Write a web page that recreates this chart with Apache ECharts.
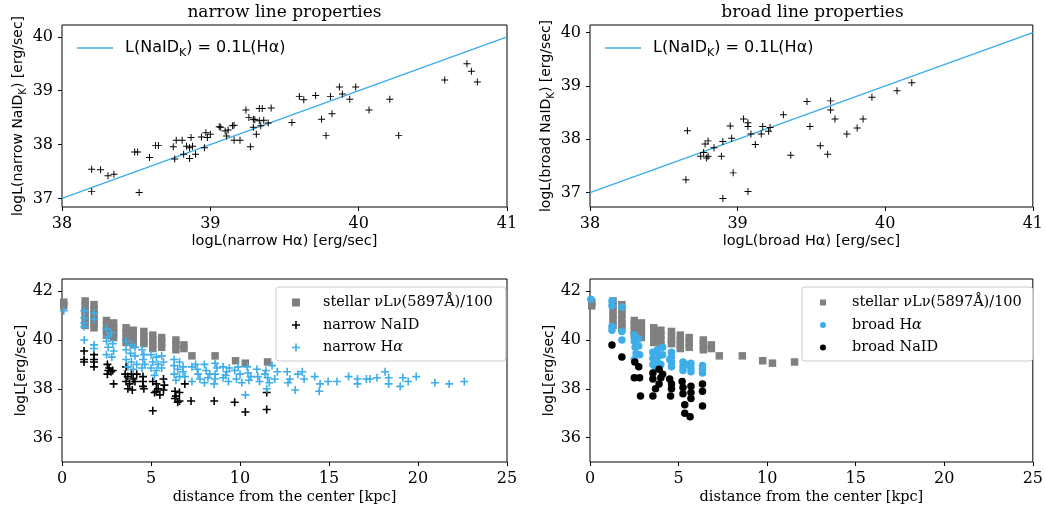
<!DOCTYPE html>
<html>
<head>
<meta charset="utf-8">
<script src="https://cdn.jsdelivr.net/npm/echarts@6/dist/echarts.min.js"></script>
<style>
  html, body { margin: 0; padding: 0; background: #fff; }
  #chart { width: 1046px; height: 510px; }
</style>
</head>
<body>
<div id="chart"></div>
<script>
// ---- line-luminosity pairs [log L(Halpha), log L(NaID_K)] ----
const narrowLum = [
  [38.20,37.54],[38.26,37.53],[38.20,37.13],[38.31,37.42],[38.35,37.45],
  [38.49,37.86],[38.51,37.86],[38.52,37.11],[38.59,37.76],[38.63,37.98],
  [38.65,37.98],[38.75,37.96],[38.76,37.73],[38.77,38.08],[38.81,38.08],
  [38.82,37.82],[38.84,37.97],[38.86,37.74],[38.87,38.13],[38.86,37.94],
  [38.88,37.97],[38.90,37.82],[38.94,38.14],[38.96,37.94],[38.97,38.22],
  [38.98,38.13],[39.00,38.19],[39.06,38.33],[39.07,38.32],[39.10,38.25],
  [39.11,38.16],[39.12,38.27],[39.15,38.35],[39.16,38.36],[39.16,38.08],
  [39.20,38.08],[39.24,38.64],[39.26,38.50],[39.27,37.96],[39.29,38.47],
  [39.29,38.32],[39.30,38.46],[39.31,38.19],[39.33,38.67],[39.33,38.44],
  [39.34,38.35],[39.35,38.67],[39.36,38.45],[39.39,38.40],[39.41,38.68],
  [39.55,38.41],[39.60,38.89],[39.63,38.83],[39.71,38.91],[39.75,38.47],
  [39.78,38.17],[39.81,38.89],[39.82,38.57],[39.87,39.07],[39.89,38.94],
  [39.94,38.84],[39.98,39.07],[40.07,38.64],[40.21,38.84],[40.27,38.17],
  [40.58,39.20],[40.73,39.50],[40.76,39.36],[40.80,39.16]
];
const broadLum = [
  [38.66,38.16],[38.65,37.24],[38.75,37.68],[38.77,37.75],[38.78,37.91],
  [38.80,37.97],[38.79,37.65],[38.80,37.68],[38.84,37.84],[38.89,37.68],
  [38.90,37.96],[38.90,36.89],[38.95,38.25],[38.96,38.02],[38.97,37.37],
  [39.04,38.38],[39.07,38.31],[39.07,38.24],[39.09,38.10],[39.07,37.02],
  [39.12,37.90],[39.16,38.10],[39.17,38.24],[39.21,38.15],[39.22,38.22],
  [39.31,38.46],[39.36,37.70],[39.47,38.71],[39.49,38.24],[39.56,37.88],
  [39.61,37.72],[39.63,38.72],[39.63,38.55],[39.66,38.38],[39.74,38.10],
  [39.81,38.21],[39.85,38.38],[39.91,38.79],[40.08,38.91],[40.18,39.06]
];
// reference relation L(NaID_K) = 0.1 L(Halpha)
const refLogHa = [38, 41];
const refLogNaD = [37, 40];

// ---- radial profiles [distance kpc, log L] ----
const stellarProfile = [
  [0.1,41.55],[0.1,41.4],
  [1.3,41.6],[1.3,41.4],[1.3,41.2],[1.3,41.0],[1.3,40.8],[1.3,40.6],
  [1.8,41.45],[1.8,41.25],[1.8,41.05],[1.8,40.85],[1.8,40.65],[1.8,40.5],
  [2.5,40.8],[2.5,40.6],[2.5,40.4],[2.5,40.2],
  [2.9,40.7],[2.9,40.5],[2.9,40.3],[2.9,40.1],
  [3.6,40.5],[3.6,40.3],[3.6,40.1],[3.6,39.9],
  [4.0,40.4],[4.0,40.2],[4.0,40.0],[4.0,39.8],
  [4.6,40.35],[4.6,40.15],[4.6,39.95],[4.6,39.85],
  [5.1,40.2],[5.1,40.0],[5.1,39.8],[5.1,39.65],
  [5.6,40.1],[5.6,39.9],[5.6,39.7],
  [6.4,40.0],[6.4,39.8],[6.4,39.6],
  [6.85,39.8],[6.85,39.65],
  [7.3,39.35],[8.6,39.35],[9.75,39.15],[10.3,39.05],[11.55,39.1]
];
const narrowNaDProfile = [
  [1.24,39.55],[1.24,39.2],[1.24,39.1],
  [1.8,39.4],[1.8,39.2],[1.8,39.1],[1.8,38.9],
  [2.55,39.0],[2.65,38.85],[2.75,38.7],[2.55,38.6],[2.85,38.75],[2.9,38.2],[2.6,38.75],
  [3.6,38.9],[3.55,38.6],[3.7,38.5],[3.9,38.6],[4.0,38.4],[3.6,38.3],[3.8,38.2],
  [4.1,38.3],[3.7,38.0],[3.95,37.95],[4.2,38.6],
  [4.55,38.5],[4.55,38.3],[4.55,38.1],[4.6,38.0],
  [5.1,38.3],[5.3,38.2],[5.4,38.0],[5.2,37.85],[5.5,37.75],[5.1,37.1],[5.3,37.9],
  [5.7,38.4],[5.75,38.15],[5.7,37.95],
  [6.35,37.9],[6.4,37.7],[6.5,37.45],[6.35,37.6],
  [6.6,37.85],[6.6,37.5],[6.9,38.2],[7.25,37.5],[8.55,37.5],[9.7,37.45],
  [10.3,37.05],[11.5,37.85],[11.5,37.15]
];
const narrowHaProfile = [
  [0.1,41.2],
  [1.25,41.2],[1.25,40.9],[1.25,40.7],[1.25,40.55],[1.25,40.0],
  [1.8,41.1],[1.8,40.85],[1.8,39.8],[1.8,39.65],
  [2.5,40.45],[2.75,40.3],[2.6,40.15],[2.5,39.95],[2.85,39.85],[2.6,39.7],[2.9,39.55],[2.5,39.4],[2.8,39.3],
  [3.6,39.95],[3.9,39.8],[4.1,39.7],[3.6,39.6],[3.85,39.45],[4.1,39.35],[3.6,39.2],[3.9,39.1],[4.2,39.0],[3.7,38.9],[4.0,38.8],
  [4.5,39.6],[4.6,39.4],[4.55,39.2],[4.65,39.0],[4.5,38.85],
  [5.0,39.4],[5.3,39.3],[5.6,39.35],[5.1,39.1],[5.4,39.0],[5.7,39.1],[5.0,38.85],[5.3,38.75],[5.6,38.85],[5.2,38.55],
  [6.3,39.2],[6.6,39.1],[6.3,38.95],[6.5,38.8],[6.8,38.9],[6.3,38.6],[6.6,38.5],[6.4,38.35],
  [6.8,38.7],[6.9,38.5],[7.3,38.9],[7.6,38.8],[7.65,38.6],[7.3,38.3],[7.75,38.4],[7.5,39.0],
  [8.0,39.0],[8.1,38.75],[8.2,38.45],[8.0,38.25],[8.3,38.6],
  [8.6,39.05],[8.6,38.6],[8.55,38.2],[8.7,38.85],[8.6,38.4],
  [9.05,38.9],[9.25,38.7],[9.05,38.45],[9.35,38.3],[9.2,38.55],[9.4,38.85],
  [9.7,38.75],[10.0,38.6],[9.8,38.4],[10.1,38.25],[9.9,38.9],
  [10.4,38.9],[10.45,38.65],[10.5,38.35],[10.3,37.75],[10.6,38.5],
  [10.95,38.8],[11.0,38.5],[11.1,38.3],
  [11.45,38.75],[11.8,38.95],[11.55,38.45],[11.65,38.25],[11.5,38.0],[11.4,38.6],
  [12.1,38.7],[11.95,38.4],
  [12.65,38.7],[12.8,38.4],[12.7,38.25],[13.1,37.95],[13.25,38.6],[13.5,38.7],[13.6,38.4],
  [14.2,38.5],[14.5,38.2],[14.45,37.9],[14.95,38.3],[15.45,38.3],[16.1,38.5],
  [16.6,38.4],[16.6,38.2],[17.1,38.4],[17.3,38.4],[17.7,38.45],[18.15,38.7],
  [18.35,38.45],[18.35,38.2],[19.0,38.1],[19.15,38.45],[19.45,38.3],[19.9,38.5],
  [20.95,38.25],[21.75,38.2],[22.6,38.3]
];
const broadHaProfile = [
  [0.05,41.67],
  [1.24,41.6],[1.24,41.4],[1.24,40.55],[1.24,40.4],
  [1.8,41.35],[1.8,40.35],[1.8,40.0],
  [2.5,40.2],[2.5,39.95],[2.75,40.05],[2.55,39.7],[2.75,39.75],[2.8,39.4],[2.6,39.45],[2.5,39.2],
  [3.55,39.5],[3.55,39.25],[3.55,39.0],[3.8,39.6],[3.9,39.35],[4.1,39.7],[4.1,39.4],[3.8,39.1],[3.7,38.85],[4.0,39.0],
  [4.6,39.5],[4.6,39.3],[4.6,39.1],[4.6,38.9],[4.5,39.2],
  [5.25,39.1],[5.25,38.9],[5.25,38.75],[5.7,39.05],[5.7,38.85],[5.7,38.7],[5.5,39.0],
  [6.35,38.95],[6.35,38.8],[6.35,38.65]
];
const broadNaDProfile = [
  [1.24,39.8],[1.8,39.3],
  [2.53,39.1],[2.75,38.9],[2.5,38.45],[2.8,38.45],[2.85,37.7],
  [3.55,38.65],[3.9,38.8],[4.1,38.6],[3.55,38.4],[3.9,38.2],[3.7,38.0],[3.55,37.7],[4.0,38.45],
  [4.5,38.4],[4.6,38.2],[4.55,37.7],[4.6,38.0],
  [5.2,38.3],[5.25,38.05],[5.25,37.8],[5.35,37.35],[5.35,37.0],[5.7,38.1],[5.7,37.85],[5.7,37.6],[5.65,36.85],
  [6.35,38.2],[6.35,37.9],[6.35,37.3]
];

// ---- tick values ----
const lumTicksY = [37, 38, 39, 40];
const profileTicksY = [36, 38, 40, 42];

// ---- styling ----
const BLUE = '#3daeea';
const GRAY = '#808080';
const SERIF = 'DejaVu Serif';
const SANS = 'DejaVu Sans';
const PLUS_THIN = 'path://M4.3,0H5.7V4.3H10V5.7H5.7V10H4.3V5.7H0V4.3H4.3Z';
const PLUS_BOLD = 'path://M4,0H6V4H10V6H6V10H4V6H0V4H4Z';

const grids = [
  { left: 62, top: 25, width: 445, height: 182 },
  { left: 590, top: 25, width: 445, height: 182 },
  { left: 62, top: 279, width: 445, height: 183 },
  { left: 590, top: 279, width: 445, height: 183 }
].map(g => Object.assign(g, { show: true, borderColor: '#000', borderWidth: 1, backgroundColor: 'transparent' }));

const subRich = {
  m: { fontFamily: SANS, fontSize: 14, lineHeight: 20, color: '#000' },
  s: { fontFamily: SANS, fontSize: 10, lineHeight: 20, verticalAlign: 'bottom', color: '#000' }
};

const tickLabel = { color: '#000', fontFamily: SERIF, fontSize: 16, margin: 9 };

function baseAxis(extra) {
  return Object.assign({
    axisLine: { show: false },
    axisTick: { show: true, inside: false, length: 4, lineStyle: { color: '#000', width: 1 } },
    splitLine: { show: false },
    nameLocation: 'middle'
  }, extra);
}

function lumXAxis(gridIndex, label) {
  return baseAxis({
    type: 'value', gridIndex, min: 38, max: 41, interval: 1,
    name: label, nameGap: 27,
    nameTextStyle: { fontFamily: SANS, fontSize: 14.5, color: '#000' },
    axisLabel: Object.assign({ showMinLabel: true, showMaxLabel: true }, tickLabel)
  });
}
function lumYAxis(gridIndex, kind, min, max) {
  const ax = baseAxis({
    type: 'value', gridIndex, min, max,
    name: '{m|logL(' + kind + ' NaID}{s|K}{m|) [erg/sec]}', nameGap: 34,
    nameTextStyle: { rich: subRich },
    axisLabel: Object.assign({ customValues: lumTicksY }, tickLabel)
  });
  ax.axisTick.customValues = lumTicksY;
  return ax;
}
function distXAxis(gridIndex) {
  return baseAxis({
    type: 'value', gridIndex, min: 0, max: 25, interval: 5,
    name: 'distance from the center [kpc]', nameGap: 28,
    nameTextStyle: { fontFamily: SERIF, fontSize: 14.5, color: '#000' },
    axisLabel: Object.assign({ showMinLabel: true, showMaxLabel: true }, tickLabel)
  });
}
function profYAxis(gridIndex) {
  const ax = baseAxis({
    type: 'value', gridIndex, min: 35, max: 42.5,
    name: 'logL[erg/sec]', nameGap: 34,
    nameTextStyle: { fontFamily: SANS, fontSize: 14, color: '#000' },
    axisLabel: Object.assign({ customValues: profileTicksY }, tickLabel)
  });
  ax.axisTick.customValues = profileTicksY;
  return ax;
}

const relationName = 'L(NaID_K) = 0.1L(Hα)';
const relationLine = refLogHa.map((x, i) => [x, refLogNaD[i]]);

function relationSeries(idx) {
  return {
    name: relationName, type: 'line', xAxisIndex: idx, yAxisIndex: idx,
    data: relationLine, symbol: 'none', silent: true,
    lineStyle: { color: BLUE, width: 1.5 }, itemStyle: { color: BLUE }, z: 2
  };
}
function markSeries(idx, name, data, color, shape, size) {
  return {
    name, type: 'scatter', xAxisIndex: idx, yAxisIndex: idx, data,
    symbol: shape, symbolSize: size, itemStyle: { color, opacity: 1 }, z: 3, silent: true
  };
}

const stellarName = 'stellar νLν(5897Å)/100';

const relationLegend = (left) => ({
  data: [{ name: relationName, icon: 'rect' }], left, top: 40, orient: 'vertical', padding: 0,
  itemWidth: 36, itemHeight: 1.6, selectedMode: false,
  itemStyle: { color: BLUE },
  formatter: () => '{m|L(NaID}{s|K}{m|) = 0.1L(Hα)}',
  textStyle: {
    padding: [0, 0, 0, 7],
    rich: {
      m: { fontFamily: SANS, fontSize: 16, lineHeight: 22, color: '#000' },
      s: { fontFamily: SANS, fontSize: 11, lineHeight: 22, verticalAlign: 'bottom', color: '#000' }
    }
  }
});

function profileLegend(names, left, pad, iconSize, textPad) {
  return {
    data: names, left, top: 287, orient: 'vertical', selectedMode: false,
    padding: pad, itemGap: 7.5, itemWidth: iconSize, itemHeight: iconSize,
    borderColor: '#cccccc', borderWidth: 1, borderRadius: 3, backgroundColor: '#fff',
    formatter: (n) => n.replace('Hα', 'H{i|α}'),
    textStyle: {
      fontFamily: SERIF, fontSize: 14.5, color: '#000', padding: [0, 0, 0, textPad],
      rich: { i: { fontFamily: SERIF, fontSize: 14.5, fontStyle: 'italic', color: '#000' } }
    }
  };
}

const option = {
  animation: false,
  backgroundColor: '#fff',
  title: [
    { text: 'narrow line properties', left: 284.5, top: 4, textAlign: 'center', padding: 0,
      textStyle: { fontFamily: SERIF, fontSize: 17, fontWeight: 'normal', color: '#000' } },
    { text: 'broad line properties', left: 812.5, top: 4, textAlign: 'center', padding: 0,
      textStyle: { fontFamily: SERIF, fontSize: 17, fontWeight: 'normal', color: '#000' } }
  ],
  grid: grids,
  xAxis: [
    lumXAxis(0, 'logL(narrow Hα) [erg/sec]'),
    lumXAxis(1, 'logL(broad Hα) [erg/sec]'),
    distXAxis(2),
    distXAxis(3)
  ],
  yAxis: [
    lumYAxis(0, 'narrow', 36.84, 40.22),
    lumYAxis(1, 'broad', 36.73, 40.143),
    profYAxis(2),
    profYAxis(3)
  ],
  legend: [
    relationLegend(77),
    relationLegend(605),
    profileLegend([stellarName, 'narrow NaID', 'narrow Hα'], 276, [8, 13, 6, 16], 8, 18),
    profileLegend([stellarName, 'broad Hα', 'broad NaID'], 802, [8, 11, 6, 18], 6, 21)
  ],
  series: [
    relationSeries(0),
    markSeries(0, 'narrow pairs', narrowLum, '#000', PLUS_THIN, 7),
    relationSeries(1),
    markSeries(1, 'broad pairs', broadLum, '#000', PLUS_THIN, 7),
    markSeries(2, stellarName, stellarProfile, GRAY, 'rect', 7.5),
    markSeries(2, 'narrow NaID', narrowNaDProfile, '#000', PLUS_BOLD, 8),
    markSeries(2, 'narrow Hα', narrowHaProfile, BLUE, PLUS_BOLD, 8),
    markSeries(3, stellarName, stellarProfile, GRAY, 'rect', 7.5),
    markSeries(3, 'broad Hα', broadHaProfile, BLUE, 'circle', 7.5),
    markSeries(3, 'broad NaID', broadNaDProfile, '#000', 'circle', 7.5)
  ]
};

const chart = echarts.init(document.getElementById('chart'), null, { renderer: 'canvas' });
chart.setOption(option);
</script>
</body>
</html>
